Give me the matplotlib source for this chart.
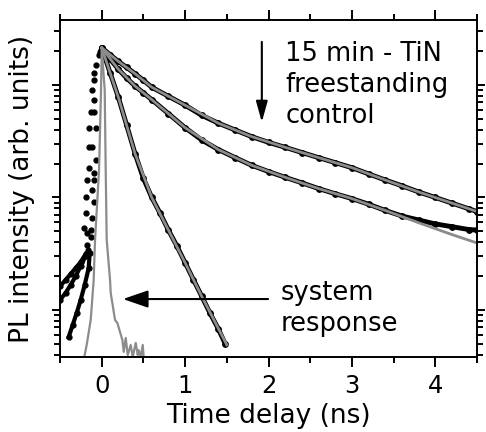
import numpy as np
import matplotlib
matplotlib.use("Agg")
from matplotlib import pyplot as plt
from matplotlib.ticker import MultipleLocator, LogLocator, NullFormatter

# ---- data (time in ns, intensity in arb. units) ----
t_a = [0.0, 0.1, 0.2, 0.3, 0.4, 0.5, 0.6, 0.8, 1.0, 1.2, 1.4, 1.6, 1.8, 2.0, 2.2,
       2.4, 2.6, 2.8, 3.0, 3.2, 3.4, 3.6, 3.8, 4.0, 4.2, 4.4, 4.5]
pl_a = [2.14, 1.86, 1.62, 1.43, 1.26, 1.10, 0.955, 0.794, 0.661, 0.537, 0.457, 0.398,
        0.347, 0.309, 0.279, 0.251, 0.226, 0.204, 0.184, 0.162, 0.143, 0.127, 0.112,
        0.100, 0.0891, 0.0794, 0.0750]

t_b = [0.0, 0.1, 0.2, 0.3, 0.4, 0.5, 0.6, 0.8, 1.0, 1.2, 1.4, 1.6, 1.8, 2.0, 2.2,
       2.4, 2.6, 2.8, 3.0, 3.2, 3.4, 3.6, 3.8, 4.0, 4.2, 4.4, 4.5]
pl_b = [2.14, 1.70, 1.38, 1.15, 0.977, 0.851, 0.741, 0.556, 0.417, 0.324, 0.266, 0.226,
        0.193, 0.170, 0.151, 0.135, 0.120, 0.108, 0.0977, 0.0871, 0.0767, 0.0684,
        0.0631, 0.0582, 0.0550, 0.0519, 0.0513]

t_c = [0.0, 0.1, 0.2, 0.3, 0.4, 0.5, 0.6, 0.7, 0.8, 0.9, 1.0, 1.1, 1.2, 1.3, 1.4, 1.48]
pl_c = [2.14, 1.29, 0.776, 0.437, 0.245, 0.148, 0.100, 0.0724, 0.0513, 0.0372, 0.0263,
        0.0186, 0.0132, 0.00933, 0.00676, 0.00501]

# fits (grey lines)
fit_t_a = [0.0, 0.2, 0.4, 0.6, 1.0, 1.4, 1.8, 2.2, 2.6, 3.0, 3.4, 3.8, 4.2, 4.5]
fit_a = [2.14, 1.62, 1.26, 0.955, 0.661, 0.457, 0.347, 0.279, 0.226, 0.184, 0.143,
         0.112, 0.0891, 0.0750]
fit_t_b = [0.0, 0.2, 0.4, 0.6, 0.8, 1.0, 1.4, 1.8, 2.2, 2.6, 3.0, 3.4, 3.8, 4.2, 4.5]
fit_b = [2.14, 1.38, 0.977, 0.741, 0.556, 0.417, 0.266, 0.193, 0.151, 0.120, 0.0977,
         0.0767, 0.0596, 0.0468, 0.0394]
fit_t_c = [0.0, 0.2, 0.4, 0.6, 0.8, 1.0, 1.2, 1.5]
fit_c = [2.14, 0.776, 0.245, 0.100, 0.0513, 0.0263, 0.0132, 0.0049]

# signal before t = 0 (rising edge and pre-pulse)
rise_t = [-0.012, -0.024, -0.036, -0.072, -0.096, -0.096, -0.12, -0.096, -0.132, -0.096,
          -0.156, -0.072, -0.156, -0.12, -0.072, -0.156, -0.096, -0.18, -0.096, -0.12,
          -0.192, -0.096, -0.192, -0.12, -0.216, -0.132, -0.18, -0.132, -0.18, -0.168]
rise_pl = [2.05, 1.96, 1.85, 1.51, 1.28, 1.11, 0.903, 0.736, 0.575, 0.575,
           0.415, 0.415, 0.281, 0.281, 0.215, 0.183, 0.165, 0.143, 0.143, 0.117,
           0.101, 0.0912, 0.0728, 0.0658, 0.0536, 0.0514, 0.0483, 0.0446, 0.0378, 0.0341]

pre1_t = [-0.5, -0.432, -0.372, -0.312, -0.252, -0.192]
pre1_pl = [0.0163, 0.0185, 0.0209, 0.0236, 0.0267, 0.0315]
pre2_t = [-0.5, -0.432, -0.372, -0.312, -0.252, -0.192]
pre2_pl = [0.0123, 0.0142, 0.0167, 0.0200, 0.0246, 0.0302]
pre3_t = [-0.396, -0.348, -0.30, -0.252, -0.204, -0.156, -0.144]
pre3_pl = [0.00575, 0.00736, 0.0094, 0.0123, 0.0167, 0.0236, 0.0321]

# system response (grey)
sys_t = [-0.216, -0.18, -0.132, -0.096, -0.08, -0.032, -0.008, 0.0, 0.036, 0.048, 0.06,
         0.10, 0.108, 0.16, 0.188, 0.248, 0.264, 0.288, 0.312, 0.348, 0.372, 0.408,
         0.432, 0.444, 0.468, 0.492, 0.504]
sys_pl = [0.0036, 0.00489, 0.00815, 0.0185, 0.0419, 0.175, 0.904, 2.13, 0.904, 0.175,
          0.0419, 0.0185, 0.0142, 0.00815, 0.00766, 0.00541, 0.00424, 0.00564, 0.00398,
          0.00489, 0.00382, 0.00509, 0.00398, 0.0044, 0.0038, 0.00489, 0.0037]

# ---- figure ----
plt.rcParams['font.family'] = 'DejaVu Sans'
fig = plt.figure(figsize=(4.86, 4.32), dpi=100)
ax = fig.add_axes([60 / 486, 1 - 357 / 432, 417 / 486, 337 / 432])

grey = '#8c8c8c'
ax.plot(pre1_t, pre1_pl, color='k', lw=3.0, marker='o', ms=3.5)
ax.plot(pre2_t, pre2_pl, color='k', lw=3.0, marker='o', ms=3.5)
ax.plot(pre3_t, pre3_pl, color='k', lw=3.0, marker='o', ms=3.5)
ax.plot(rise_t, rise_pl, 'o', color='k', ms=3.5)

for tt, yy in [(t_a, pl_a), (t_b, pl_b), (t_c, pl_c)]:
    ax.plot(tt, yy, color='k', lw=3.5, marker='o', ms=3.9, solid_capstyle='round')

ax.plot(sys_t, sys_pl, color=grey, lw=1.6)
ax.plot(fit_t_a, fit_a, color=grey, lw=2.0)
ax.plot(fit_t_b, fit_b, color=grey, lw=2.0)
ax.plot(fit_t_c, fit_c, color=grey, lw=2.0)

ax.set_yscale('log')
ax.set_xlim(-0.5, 4.5)
ax.set_ylim(0.00382, 3.78)

ax.xaxis.set_major_locator(MultipleLocator(1))
ax.xaxis.set_minor_locator(MultipleLocator(0.5))
ax.yaxis.set_major_locator(LogLocator(base=10))
ax.yaxis.set_minor_locator(LogLocator(base=10, subs=np.arange(2, 10)))
ax.yaxis.set_major_formatter(NullFormatter())
ax.yaxis.set_minor_formatter(NullFormatter())

ax.tick_params(which='both', direction='out', top=True, right=True, width=1.4)
ax.tick_params(axis='x', which='major', length=7, pad=5, labelsize=17.5)
ax.tick_params(axis='x', which='minor', length=4.5)
ax.tick_params(axis='y', which='major', length=5.5)
ax.tick_params(axis='y', which='minor', length=4.5)
for s in ax.spines.values():
    s.set_linewidth(1.4)

ax.set_xlabel('Time delay (ns)', fontsize=19, labelpad=4)
ax.set_ylabel('PL intensity (arb. units)', fontsize=19)
ax.yaxis.set_label_coords(-0.06, 0.5)

ax.text(0.54, 0.938, '15 min - TiN\nfreestanding\ncontrol', transform=ax.transAxes,
        fontsize=18.5, ha='left', va='top', linespacing=1.25)
ax.text(0.528, 0.228, 'system\nresponse', transform=ax.transAxes,
        fontsize=18.5, ha='left', va='top', linespacing=1.25)

ax.annotate('', xy=(0.484, 0.697), xytext=(0.484, 0.935), xycoords='axes fraction',
            arrowprops=dict(arrowstyle='-|>,head_length=0.9,head_width=0.25',
                            color='k', lw=1.5, mutation_scale=14, shrinkA=0, shrinkB=0))
ax.annotate('', xy=(0.151, 0.172), xytext=(0.499, 0.172), xycoords='axes fraction',
            arrowprops=dict(arrowstyle='-|>,head_length=1.1,head_width=0.38',
                            color='k', lw=1.5, mutation_scale=14, shrinkA=0, shrinkB=0))

fig.savefig('out.png', dpi=100)
